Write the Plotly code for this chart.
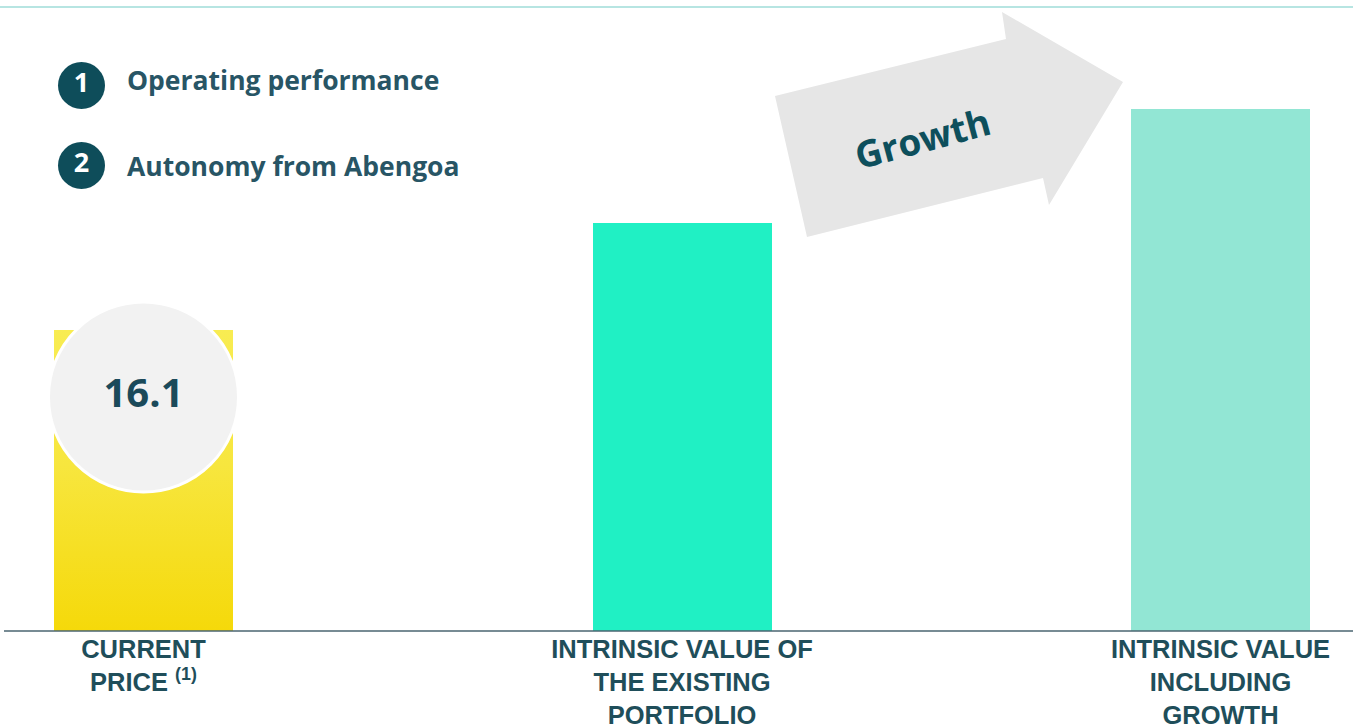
import plotly.graph_objects as go

# ---- data ----
categories = ["CURRENT<br>PRICE <sup>(1)</sup>",
              "INTRINSIC VALUE OF<br>THE EXISTING<br>PORTFOLIO",
              "INTRINSIC VALUE<br>INCLUDING<br>GROWTH"]
values = [16.1, 21.8, 27.9]
bar_colors = ["#F6E22E", "#20F0C4", "#92E6D4"]
value_label = "16.1"
drivers = ["Operating performance", "Autonomy from Abengoa"]
driver_numbers = ["1", "2"]
arrow_label = "Growth"

# ---- layout geometry ----
W, H = 1353, 724
BASE = 631              # pixel row of the baseline
PX_PER_CAT = 538.5
X0 = 143.5              # pixel centre of first category
PX_PER_UNIT = 301 / 16.1
BAR_W = 179 / PX_PER_CAT

xr = [-X0 / PX_PER_CAT, (W - X0) / PX_PER_CAT]
yr = [0, BASE / PX_PER_UNIT]


def dx(px):
    return (px - X0) / PX_PER_CAT


def dy(py):
    return (BASE - py) / PX_PER_UNIT


def px_paper(px):
    return px / W


def py_paper(py):
    return (BASE - py) / BASE


xs = list(range(len(values)))
dark = "#0E4D5A"
text_dark = "#285565"

fig = go.Figure()
fig.add_trace(go.Bar(x=xs, y=values, width=BAR_W, marker=dict(color=bar_colors, line=dict(width=0)),
                     hoverinfo="skip", showlegend=False))

# gradient overlay for the first bar
x_l, x_r = xs[0] - BAR_W / 2, xs[0] + BAR_W / 2
fig.add_trace(go.Scatter(
    x=[x_l, x_r, x_r, x_l, x_l], y=[0, 0, values[0], values[0], 0],
    mode="lines", line=dict(width=0), fill="toself",
    fillgradient=dict(type="vertical", start=0, stop=values[0],
                      colorscale=[[0, "#F5D90A"], [0.55, "#F7E63E"], [1, "#F8EC52"]]),
    hoverinfo="skip", showlegend=False))

# big value circle
fig.add_trace(go.Scatter(
    x=[xs[0]], y=[dy(397)], mode="markers+text",
    marker=dict(size=190, color="#F2F2F2", line=dict(color="white", width=3)),
    text=[value_label], textposition="middle center",
    textfont=dict(family="Open Sans", size=40, color="#1B4A5A", weight="bold"),
    hoverinfo="skip", showlegend=False, cliponaxis=False))

# numbered driver circles
drv_y = [85.5, 165.5]
fig.add_trace(go.Scatter(
    x=[dx(81.5)] * 2, y=[dy(v) for v in drv_y], mode="markers+text",
    marker=dict(size=47, color=dark, line=dict(width=0)),
    text=driver_numbers, textposition="middle center",
    textfont=dict(family="Open Sans", size=27, color="white", weight="bold"),
    hoverinfo="skip", showlegend=False, cliponaxis=False))

annotations = []
for t, yy in zip(drivers, [80, 166]):
    annotations.append(dict(x=px_paper(125), y=py_paper(yy), xref="paper", yref="paper",
                            text=t, showarrow=False, xanchor="left", yanchor="middle",
                            font=dict(family="Open Sans", size=26.5, color=text_dark, weight="bold")))

annotations.append(dict(x=px_paper(923), y=py_paper(137), xref="paper", yref="paper",
                        text=arrow_label, showarrow=False, textangle=-15,
                        xanchor="center", yanchor="middle",
                        font=dict(family="Open Sans", size=37, color="#0D4F5C", weight="bold")))

arrow_pts = [(775, 96), (1006, 39), (1002, 12), (1123, 82), (1049, 205), (1043, 178), (807, 237)]
path = "M " + " L ".join(f"{px_paper(a):.5f},{py_paper(b):.5f}" for a, b in arrow_pts) + " Z"

shapes = [
    dict(type="path", path=path, xref="paper", yref="paper",
         fillcolor="#E6E6E6", line=dict(width=0), layer="below"),
    dict(type="line", xref="paper", yref="paper", x0=0, x1=1, y0=py_paper(7), y1=py_paper(7),
         line=dict(color="#9FDCD8", width=1.5)),
    dict(type="line", xref="paper", yref="paper", x0=px_paper(4), x1=1, y0=0, y1=0,
         line=dict(color="#4A6470", width=1.5)),
]

fig.update_layout(
    width=W, height=H,
    margin=dict(l=0, r=0, t=0, b=H - BASE, autoexpand=False),
    paper_bgcolor="white", plot_bgcolor="white",
    showlegend=False,
    xaxis=dict(range=xr, tickvals=xs, ticktext=categories, showgrid=False, zeroline=False,
               showline=False, ticks="", fixedrange=True, automargin=False,
               tickfont=dict(family="Liberation Sans", size=25.5, color="#1F4E5A", weight="bold")),
    yaxis=dict(range=yr, visible=False, fixedrange=True, automargin=False),
    shapes=shapes, annotations=annotations,
    bargap=0,
)

fig.write_html("out.html", config={"displayModeBar": False})
